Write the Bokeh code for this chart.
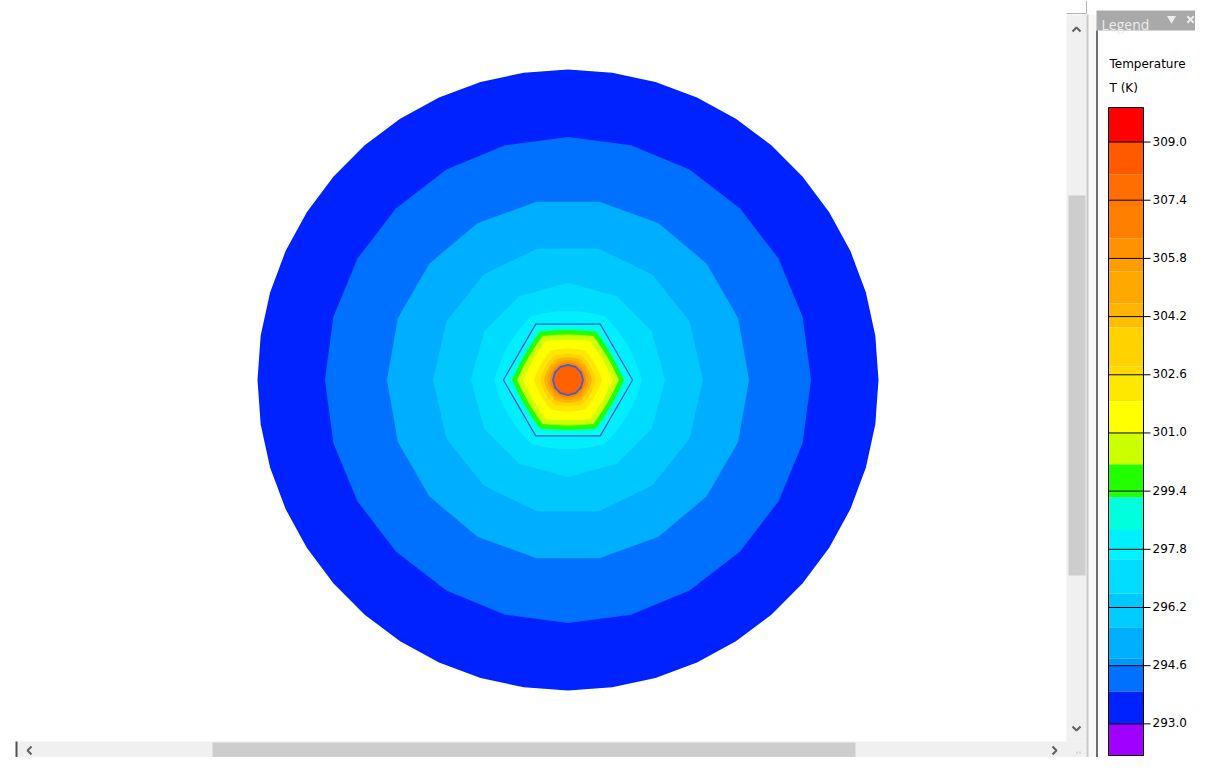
import numpy as np
from bokeh.plotting import figure
from bokeh.models import Range1d, ColumnDataSource
from bokeh.embed import file_html
from bokeh.resources import INLINE
from bokeh.core.properties import value

# ---------------- data ----------------
# Temperature contour bands on the disc (outermost first): outer radius in mm, fill colour
band_radius_mm = [50.0, 39.13, 29.15, 21.74, 15.6, 11.9, 10.39, 9.0, 8.2, 7.25, 5.5, 4.5, 3.86, 3.38, 2.9, 2.42]
band_colors = ["#0022FF", "#0070FF", "#00AEFF", "#00C8FF", "#00DCFF", "#00EEFF", "#00FFE8",
               "#22FF00", "#CCFF00", "#FFFF00", "#FFE800", "#FFD200", "#FFB400", "#FFA000",
               "#FF8400", "#FF6000"]
# mesh facets of each contour and how hexagonal it is (0 = round, 1 = hexagon)
band_sides = [44, 24, 18, 14, 12, 36, 6, 36, 36, 36, 36, 36, 36, 36, 36, 12]
band_hexness = [0, 0, 0, 0, 0, 0.5, 1.0, 0.8, 0.8, 0.8, 0.6, 0.5, 0.4, 0.3, 0.2, 0.0]

heater_hex_radius_mm = 10.39
core_radius_mm = 2.42

# Legend
legend_title = ["Temperature", "T (K)"]
legend_levels = [309.0, 307.4, 305.8, 304.2, 302.6, 301.0, 299.4, 297.8, 296.2, 294.6, 293.0]
legend_labels = ["309.0", "307.4", "305.8", "304.2", "302.6", "301.0", "299.4", "297.8", "296.2", "294.6", "293.0"]
legend_edges = [309.95, 309.0, 308.1, 307.4, 307.24, 306.34, 305.8, 305.45, 304.57, 304.2, 303.9,
                302.82, 302.6, 301.87, 301.0, 300.13, 299.23, 298.33, 297.8, 297.53, 296.58, 296.2,
                295.66, 294.79, 294.6, 293.89, 293.0, 292.13]
legend_colors = ["#FF0000", "#FF5A00", "#FF6E00", "#FF7800", "#FF8000", "#FF9200", "#FF9C00",
                 "#FFA800", "#FFB400", "#FFBE00", "#FFD200", "#FFDA00", "#FFE800", "#FFFF00",
                 "#CCFF00", "#22FF00", "#00FFDD", "#00F0FF", "#00F4FF", "#00DDFF", "#00C8FF",
                 "#00CCFF", "#00B0FF", "#0096FF", "#0070FF", "#0022FF", "#A000FF"]

# ---------------- layout constants ----------------
W, H = 1195, 757
CX, CY = 567.5, 379.5           # disc centre (screen px)
PX_PER_MM = 310.5 / 50.0
RX = -14                        # shift of the right-hand window chrome
BY = -14                        # shift of the bottom window chrome
BAR_TOP, BAR_BOT = 107, 755     # colour bar extent (px)
PX_PER_K = (BAR_BOT - BAR_TOP) / (legend_edges[0] - legend_edges[-1])

x_lo = (0 - CX) / PX_PER_MM
x_hi = (W - CX) / PX_PER_MM
y_hi = CY / PX_PER_MM
y_lo = (CY - H) / PX_PER_MM

t_top = legend_edges[0] + BAR_TOP / PX_PER_K
t_bot = legend_edges[0] - (H - BAR_TOP) / PX_PER_K

p = figure(width=W, height=H, x_range=Range1d(x_lo, x_hi), y_range=Range1d(y_lo, y_hi),
           output_backend="svg", toolbar_location=None, min_border=0,
           x_axis_location=None, y_axis_location=None, title=None)
p.grid.visible = False
p.outline_line_color = None
p.background_fill_color = "white"
p.border_fill_color = "white"
p.extra_x_ranges = {"ui": Range1d(0, W)}
p.extra_y_ranges = {"ui": Range1d(H, 0), "temp": Range1d(t_bot, t_top)}


def contour_shape(R, n, hexness, rot=0.0):
    th = np.deg2rad(rot + np.arange(n) * 360.0 / n)
    phi = np.mod(th, np.pi / 3) - np.pi / 6
    hexf = np.cos(np.pi / 6) / np.cos(phi)
    r = R * (hexness * hexf + (1 - hexness))
    return list(r * np.cos(th)), list(r * np.sin(th))


xs, ys = [], []
for R, n, h in zip(band_radius_mm, band_sides, band_hexness):
    x, y = contour_shape(R, n, h)
    xs.append(x)
    ys.append(y)
p.patches(xs="xs", ys="ys", fill_color="color", line_color=None,
          source=ColumnDataSource(dict(xs=xs, ys=ys, color=band_colors)))

# heater hexagon outline and core outline
hx, hy = contour_shape(heater_hex_radius_mm, 6, 1.0)
p.line(hx + hx[:1], hy + hy[:1], line_color="#2E5BE0", line_width=1.3)
cx_, cy_ = contour_shape(core_radius_mm, 12, 0.0)
p.line(cx_ + cx_[:1], cy_ + cy_[:1], line_color="#3A63D6", line_width=1.8)

ui = dict(x_range_name="ui", y_range_name="ui")

# horizontal scrollbar (bottom)
p.quad(left=[16], right=[1100 + RX], top=[755 + BY], bottom=[773 + BY], fill_color="#F0F0F0", line_color=None, **ui)
p.quad(left=[212], right=[855], top=[756 + BY], bottom=[773 + BY], fill_color="#CDCDCD", line_color=None, **ui)
p.segment(x0=[16], y0=[755 + BY], x1=[16], y1=[773 + BY], line_color="#505050", line_width=2, **ui)
p.multi_line(xs=[[31, 27, 31], [1066 + RX, 1070 + RX, 1066 + RX]],
             ys=[[760 + BY, 764 + BY, 768 + BY]] * 2, line_color="#606060", line_width=2, **ui)

# vertical scrollbar
p.quad(left=[1080 + RX], right=[1100 + RX], top=[14], bottom=[755 + BY], fill_color="#F0F0F0", line_color=None, **ui)
p.quad(left=[1082 + RX], right=[1099 + RX], top=[195], bottom=[575], fill_color="#CDCDCD", line_color=None, **ui)
p.multi_line(xs=[[1080 + RX, 1100 + RX], [1100 + RX, 1100 + RX]], ys=[[13, 13], [0, 13]],
             line_color="#B4B4B4", line_width=1, **ui)
p.multi_line(xs=[[1086 + RX, 1090 + RX, 1094 + RX]] * 2, ys=[[31, 27, 31], [740 + BY, 744 + BY, 740 + BY]],
             line_color="#606060", line_width=2, **ui)
p.multi_line(xs=[[1086 + RX + 4, 1087 + RX + 4], [1089 + RX + 4, 1090 + RX + 4]],
             ys=[[766 + BY, 766 + BY], [766 + BY, 766 + BY]], line_color="#BBBBBB", line_width=2, **ui)

# legend panel frame
p.quad(left=[1100 + RX], right=[1110 + RX], top=[14], bottom=[H], fill_color="#F7F7F7", line_color=None, **ui)
p.segment(x0=[1101 + RX], y0=[14], x1=[1101 + RX], y1=[H], line_color="#C8C8C8", line_width=2, **ui)
p.quad(left=[1110 + RX], right=[W], top=[10], bottom=[30], fill_color="#A9A9A9", line_color=None, **ui)
p.segment(x0=[1110.5 + RX], y0=[30], x1=[1110.5 + RX], y1=[H], line_color="#6E6E6E", line_width=2, **ui)
p.text(x=[1115 + RX], y=[24], text=["Legend"], text_font=value("Open Sans"), text_font_size="14px",
       text_color="#EDEDED", text_baseline="alphabetic", **ui)
p.scatter(x=[1185 + RX], y=[18], marker="inverted_triangle", size=9, fill_color="#EDEDED",
          line_color=None, **ui)
p.scatter(x=[1204 + RX], y=[19], marker="x", size=9, line_color="#EDEDED", line_width=2, **ui)

# legend texts
p.text(x=[1123 + RX] * 2, y=[63, 87], text=legend_title, text_font=value("DejaVu Sans"),
       text_font_size="12px", text_color="black", text_baseline="alphabetic", **ui)

# legend colour bar (in temperature units)
tmp = dict(x_range_name="ui", y_range_name="temp")
p.quad(left=1122 + RX, right=1157 + RX, top=legend_edges[:-1], bottom=legend_edges[1:],
       fill_color=legend_colors, line_color=None, **tmp)
p.segment(x0=1122 + RX, x1=1164 + RX, y0=legend_levels, y1=legend_levels, line_color="black",
          line_width=1, **tmp)
p.quad(left=[1122 + RX], right=[1157 + RX], top=[legend_edges[0]], bottom=[legend_edges[-1]],
       fill_color=None, line_color="black", line_width=1, **tmp)
p.text(x=1166 + RX, y=legend_levels, text=legend_labels, text_font=value("DejaVu Sans"),
       text_font_size="12px", text_color="black", text_baseline="alphabetic", y_offset=-1, **tmp)

open("out.html", "w").write(file_html(p, INLINE))
